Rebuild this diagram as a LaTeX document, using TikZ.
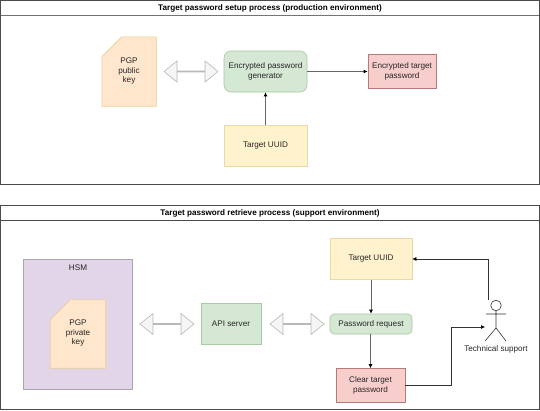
\documentclass[tikz,border=0pt]{standalone}
\usepackage{fontspec}
\setmainfont{Liberation Sans}
\usetikzlibrary{arrows.meta,shapes.arrows}
\definecolor{frameC}{HTML}{4A4A4A}
\definecolor{yellowF}{HTML}{FFF2CC}
\definecolor{yellowD}{HTML}{E6D9A2}
\definecolor{greenF}{HTML}{D5E8D4}
\definecolor{greenD}{HTML}{A9C8A4}
\definecolor{redF}{HTML}{F8CECC}
\definecolor{redD}{HTML}{B87A78}
\definecolor{purpleF}{HTML}{E1D5E7}
\definecolor{purpleD}{HTML}{ABA4B4}
\definecolor{orangeF}{HTML}{FFE6CC}
\definecolor{orangeD}{HTML}{E8CF90}
\tikzset{
  x=1pt,y=-1pt,
  every node/.style={font=\fontsize{8.15}{9.7}\selectfont,text=black!85,align=center,inner sep=0pt},
  frameline/.style={draw=frameC,line width=0.8pt},
  titletext/.style={font=\fontsize{8.15}{9.7}\selectfont\bfseries,text=black},
  yellowbox/.style={draw=yellowD,fill=yellowF,line width=0.6pt},
  greenbox/.style={draw=greenD,fill=greenF,line width=0.6pt},
  redbox/.style={draw=redD,fill=redF,line width=0.6pt},
  purplebox/.style={draw=purpleD,fill=purpleF,line width=0.6pt},
  cardstyle/.style={draw=orangeD,fill=orangeF,line width=0.6pt},
  flow/.style={draw=black!60,line width=0.9pt,-{Latex[length=4pt,width=4pt,black]}},
  thinflow/.style={draw=black!80,line width=0.6pt,-{Latex[length=4pt,width=4pt,black]}},
  biarrow/.style={double arrow,draw=black!28,fill=black!4,line width=0.6pt,minimum height=54pt,minimum width=21pt,double arrow head extend=6.5pt,double arrow tip angle=78},
  actorline/.style={draw=black!80,line width=0.6pt},
}
\begin{document}
\begin{tikzpicture}
\useasboundingbox (0,0) rectangle (540,410);
\fill[white] (0,0) rectangle (540,410);
% frames
\draw[frameline] (0.5,0.5) rectangle (539.3,184);
\draw[frameline,draw=black!55,line width=1pt] (0.5,15.5) -- (539.3,15.5);
\node[titletext] (t1) at (270,8.5) {Target password setup process (production environment)};
\draw[frameline] (0.5,205) rectangle (539.3,409.5);
\draw[frameline] (0.5,220.5) -- (539.3,220.5);
\node[titletext] (t2) at (270,213.5) {Target password retrieve process (support environment)};
% top
\node[minimum width=54pt,minimum height=69pt] (pub) at (129,71.5) {};
\draw[cardstyle] (pub.north west) ++(0,20) -- ++(20,-20) -- (pub.north east) -- (pub.south east) -- (pub.south west) -- cycle;
\node at (129,71) {PGP\\public\\key};
\node[biarrow] (a1) at (191,71.5) {};
\node[greenbox,rounded corners=7pt,minimum width=83pt,minimum height=41pt] (gen) at (265.5,71.5) {Encrypted password\\generator};
\node[redbox,minimum width=68pt,minimum height=34pt] (enc) at (402,71.5) {Encrypted target\\password};
\node[yellowbox,minimum width=83pt,minimum height=41pt] (u1) at (265.5,146) {Target UUID};
\draw[flow] (gen) -- (enc);
\draw[flow] (u1) -- (gen);
% bottom
\node[purplebox,minimum width=109pt,minimum height=130pt] (hsm) at (77.5,324) {};
\node at (78,268) {HSM};
\node[minimum width=55pt,minimum height=68pt] (priv) at (78,334) {};
\draw[cardstyle] (priv.north west) ++(0,20) -- ++(20,-20) -- (priv.north east) -- (priv.south east) -- (priv.south west) -- cycle;
\node at (78,333) {PGP\\private\\key};
\node[biarrow] (a2) at (167,324) {};
\node[greenbox,minimum width=60pt,minimum height=41pt] (api) at (231,324) {API server};
\node[biarrow] (a3) at (297,324) {};
\node[greenbox,rounded corners=4pt,minimum width=82pt,minimum height=20pt] (req) at (371,324) {Password request};
\node[yellowbox,minimum width=82pt,minimum height=41pt] (u2) at (371,259) {Target UUID};
\node[redbox,minimum width=69pt,minimum height=34pt] (clr) at (370.5,385.5) {Clear target\\password};
\draw[flow] (u2) -- (req);
\draw[flow] (req.south -| clr) -- (clr);
% actor
\node[circle,draw=black!80,line width=0.6pt,fill=white,minimum size=10.5pt] (head) at (496,305.5) {};
\coordinate (hip) at (496,328);
\coordinate (lefthand) at (486,314);
\coordinate (righthand) at (506,314);
\coordinate (leftfoot) at (485,341);
\coordinate (rightfoot) at (506,341);
\coordinate (top) at (488,300);
\coordinate (side) at (485,327);
\draw[actorline] (head.south) -- (hip) (lefthand) -- (righthand) (leftfoot) -- (hip) -- (rightfoot);
\node (ts) at (496,349.5) {Technical support};
\draw[thinflow] (top) |- (u2.east);
\draw[thinflow] (clr.east) -- (451,385.5) -- (451,327) -- (side);
\end{tikzpicture}
\end{document}
